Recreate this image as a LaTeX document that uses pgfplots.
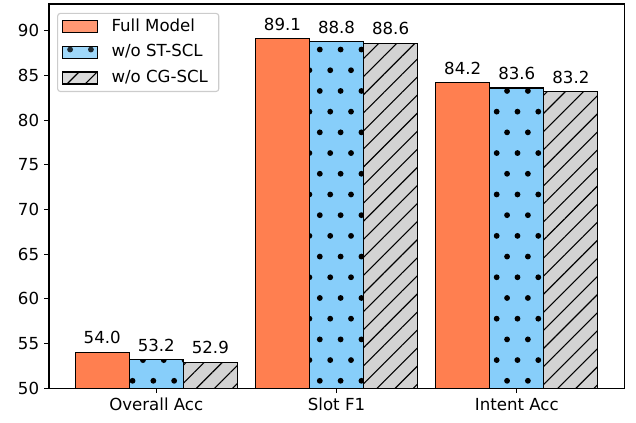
\documentclass[border=0pt]{standalone}
\usepackage{fontspec}
\setmainfont{DejaVu Sans}
\usepackage{pgfplots}
\pgfplotsset{compat=1.18}
\usetikzlibrary{patterns.meta}
\definecolor{fullc}{HTML}{FF7F50}
\definecolor{stc}{HTML}{87CEFA}
\definecolor{cgc}{HTML}{D3D3D3}
\definecolor{legedge}{gray}{0.8}
\pgfdeclarepatternformonly{sparsedots}{\pgfpoint{-3bp}{-5bp}}{\pgfpoint{17bp}{25bp}}{\pgfpoint{14.98bp}{29.81bp}}{%
  \pgfpathcircle{\pgfpoint{5.54bp}{-0.08bp}}{2.1bp}%
  \pgfpathcircle{\pgfpoint{13.03bp}{14.83bp}}{2.1bp}%
  \pgfusepath{fill}}
\begin{document}
\begin{tikzpicture}
\begin{axis}[
  width=414bp, height=276.5bp, scale only axis,
  xmin=-0.595, xmax=2.595, ymin=50, ymax=93,
  ybar=0pt, bar width=0.3,
  xtick={0,1,2}, xticklabels={Overall Acc, Slot F1, Intent Acc},
  ytick={50,55,...,90},
  tick align=outside, xtick pos=bottom, ytick pos=left,
  major tick length=3.6bp,
  axis line style={line width=0.8bp},
  every tick/.style={black, line width=0.8bp},
  tick label style={font=\fontsize{12}{14}\selectfont},
  /pgf/number format/assume math mode=true,
  nodes near coords,
  every node near coord/.append style={font=\fontsize{12}{14}\selectfont, anchor=south, inner sep=0pt, yshift=5.5bp,
    /pgf/number format/.cd, fixed, fixed zerofill, precision=1, assume math mode=true},
  legend image code/.code={\draw[#1, sharp corners] (0bp,-4.3bp) rectangle (25.2bp,4.3bp);},
  legend cell align=left,
  legend style={at={(0.014,0.977)}, anchor=north west, draw=legedge, rounded corners=2bp,
    fill=white, fill opacity=0.8, text opacity=1, line width=0.8bp,
    font=\fontsize{12}{14}\selectfont, inner xsep=3bp, inner ysep=4.2bp,
    row sep=7.4bp,
    /tikz/every odd column/.append style={column sep=5bp},
    nodes={inner xsep=4.8bp, inner ysep=0pt, text height=8.6bp, text depth=2.4bp}},
]
\addplot[fill=fullc, draw=black, line width=0.8bp, bar shift=-0.3]
  coordinates {(0,54.0) (1,89.1) (2,84.2)};
\addplot[fill=stc, draw=black, line width=0.8bp, bar shift=0,
  postaction={pattern=sparsedots, pattern color=black}]
  coordinates {(0,53.2) (1,88.8) (2,83.6)};
\addplot[fill=cgc, draw=black, line width=0.8bp, bar shift=0.3,
  postaction={pattern={Lines[distance=9.2bp, angle=45, line width=0.8bp]}, pattern color=black}]
  coordinates {(0,52.9) (1,88.6) (2,83.2)};
\legend{Full Model, w/o ST-SCL, w/o CG-SCL}
\end{axis}
\pgfresetboundingbox
\path[use as bounding box] (-35.28bp,-24.48bp) rectangle (422.6bp,279.4bp);
\end{tikzpicture}
\end{document}
